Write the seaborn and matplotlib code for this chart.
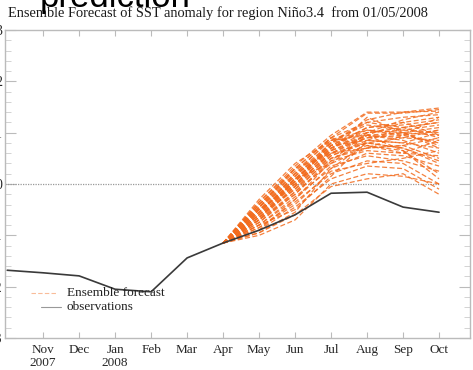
import numpy as np
import pandas as pd
import seaborn as sns
import matplotlib.pyplot as plt
from matplotlib.ticker import MultipleLocator

sns.set_style("white")
plt.rcParams['font.family'] = ['Liberation Serif', 'DejaVu Serif']

# month index: 0 = Oct 2007 ... 12 = Oct 2008
obs_months = list(range(13))
obs_values = [-1.68, -1.73, -1.79, -2.05, -2.10, -1.44, -1.15, -0.90, -0.60, -0.18, -0.16, -0.45, -0.55]

month_labels = ["Nov\n2007", "Dec", "Jan\n2008", "Feb", "Mar", "Apr", "May", "Jun", "Jul", "Aug", "Sep", "Oct"]

# ensemble starts from April obs (month 6), then May..Oct
ens_months = [6, 7, 8, 9, 10, 11, 12]
ens_start = -1.15
ens_members = [
    [-0.35, 0.35, 0.95, 1.40, 1.40, 1.48],
    [-0.40, 0.30, 0.90, 1.38, 1.38, 1.45],
    [-0.45, 0.20, 0.80, 1.20, 1.30, 1.35],
    [-0.50, 0.15, 0.75, 1.10, 1.15, 1.25],
    [-0.55, 0.10, 0.70, 1.00, 1.10, 1.20],
    [-0.60, 0.05, 0.65, 0.95, 0.90, 1.05],
    [-0.30, 0.40, 0.85, 1.05, 0.95, 0.80],
    [-0.65, 0.00, 0.60, 0.90, 1.00, 1.10],
    [-0.70, -0.05, 0.55, 0.85, 0.80, 0.70],
    [-0.45, 0.10, 0.70, 0.95, 0.85, 0.60],
    [-0.50, 0.00, 0.60, 0.80, 0.70, 0.45],
    [-0.75, -0.15, 0.40, 0.70, 0.75, 0.90],
    [-0.80, -0.25, 0.30, 0.60, 0.55, 0.35],
    [-0.60, -0.10, 0.50, 0.75, 0.65, 0.20],
    [-0.85, -0.35, 0.20, 0.45, 0.40, 0.00],
    [-0.90, -0.45, 0.10, 0.35, 0.30, -0.10],
    [-0.95, -0.60, -0.05, 0.10, 0.20, -0.20],
    [-1.00, -0.70, 0.00, 0.20, 0.15, 0.00],
    [-0.55, 0.05, 0.75, 1.05, 1.00, 0.95],
    [-0.40, 0.25, 0.85, 1.15, 1.05, 1.00],
    [-0.65, -0.05, 0.65, 0.90, 0.95, 1.05],
    [-0.70, -0.15, 0.55, 0.80, 0.90, 0.85],
    [-0.50, 0.05, 0.80, 1.25, 1.40, 1.42],
    [-0.60, 0.00, 0.70, 1.10, 1.20, 1.30],
    [-0.75, -0.20, 0.45, 0.65, 0.60, 0.55],
    [-0.35, 0.30, 0.90, 1.20, 1.10, 0.90],
    [-0.80, -0.30, 0.35, 0.55, 0.45, 0.25],
    [-0.45, 0.15, 0.80, 1.00, 1.05, 1.15],
    [-0.85, -0.40, 0.25, 0.40, 0.50, 0.65],
    [-0.65, -0.10, 0.60, 0.95, 1.00, 0.75],
    [-0.55, 0.10, 0.75, 0.85, 0.80, 1.00],
    [-0.70, -0.20, 0.50, 0.70, 0.75, 0.50],
    [-0.40, 0.20, 0.65, 1.30, 1.00, 0.70],
    [-0.90, -0.30, 0.45, 1.00, 1.25, 1.40],
    [-0.60, 0.20, 0.90, 0.75, 0.60, 0.85],
    [-0.80, -0.50, 0.15, 0.85, 1.10, 1.20],
    [-0.50, -0.05, 0.85, 0.95, 0.65, 0.10],
    [-0.70, 0.10, 0.40, 0.95, 1.20, 0.95],
    [-0.45, 0.30, 0.60, 0.70, 0.95, 1.30],
    [-0.95, -0.55, 0.30, 0.80, 0.70, 0.40],
]

rows = []
for i, mem in enumerate(ens_members):
    for m, v in zip(ens_months, [ens_start] + mem):
        rows.append({"member": i, "month": m, "sst": v})
ens_df = pd.DataFrame(rows)
obs_df = pd.DataFrame({"month": obs_months, "sst": obs_values})

fig = plt.figure(figsize=(4.73, 3.70), dpi=100)
ax = fig.add_axes([5 / 473, 1 - 338 / 370, 465 / 473, 308 / 370])

ax.axhline(0, xmin=0, xmax=0.935, color="#999999", lw=0.9, ls=(0, (1, 1)))

orange = "#f26b1d"
sns.lineplot(data=ens_df, x="month", y="sst", units="member", estimator=None,
             color=orange, lw=0.9, alpha=0.85, ax=ax, legend=False)
for line in ax.lines[1:]:
    line.set_linestyle((0, (4, 2)))
sns.lineplot(data=obs_df, x="month", y="sst", color="#3a3a3a", lw=1.2, ax=ax)

ax.set_xlim(-0.06, 12.86)
ax.set_ylim(-3, 3)
ax.set_xticks(range(1, 13))
ax.set_xticklabels(month_labels, fontsize=9.5)
ax.yaxis.set_major_locator(MultipleLocator(1))
ax.yaxis.set_minor_locator(MultipleLocator(0.2))
ax.set_yticklabels([f"{int(t)}" for t in ax.get_yticks()], fontsize=10)
ax.tick_params(axis="x", direction="in", length=4, color="#bbbbbb", top=True, bottom=True, pad=4)
ax.tick_params(axis="y", which="major", direction="in", length=8, color="#bbbbbb", left=True, right=True, pad=2)
ax.tick_params(axis="y", which="minor", direction="in", length=4, color="#cccccc", left=True, right=True)
ax.set_xlabel("")
ax.set_ylabel("")
for s in ax.spines.values():
    s.set_color("#bbbbbb")
    s.set_linewidth(1)

# legend
ax.plot([0.65, 1.35], [-2.13, -2.13], color=orange, lw=0.8, alpha=0.45, ls=(0, (4, 2)))
ax.plot([0.95, 1.5], [-2.4, -2.4], color="#999999", lw=0.8)
ax.text(1.65, -2.13, "Ensemble forecast", fontsize=9.5, va="center", color="#222222")
ax.text(1.65, -2.4, "observations", fontsize=9.5, va="center", color="#222222")

fig.text(8 / 473, 1 - 13 / 370, "Ensemble Forecast of SST anomaly for region Niño3.4  from 01/05/2008",
         fontsize=10.4, va="center", ha="left", color="#1a1a1a")
fig.text(40 / 473, 1 - 7 / 370, "prediction", fontsize=25, family="Liberation Sans",
         va="baseline", ha="left", color="black")

fig.savefig("out.png", dpi=100)
